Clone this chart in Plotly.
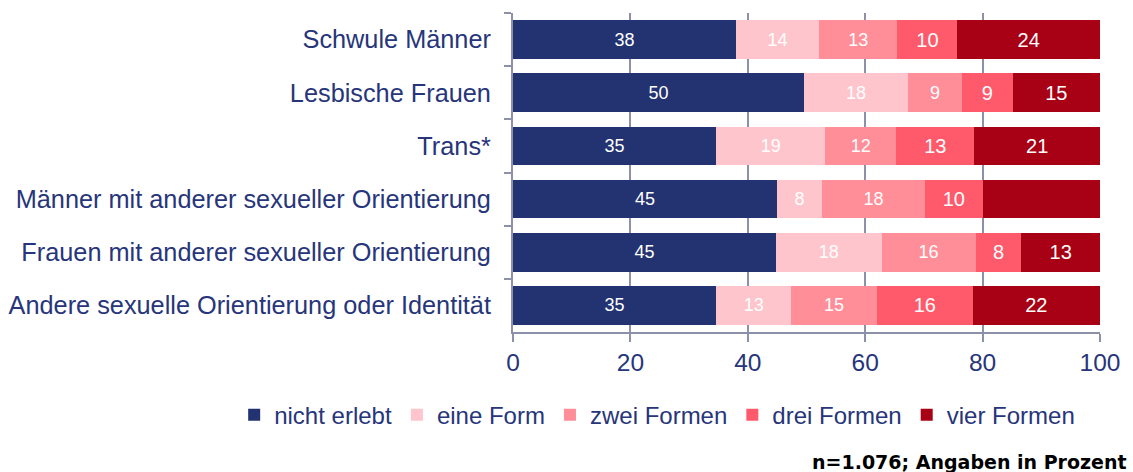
import plotly.graph_objects as go

categories = [
    "Schwule Männer",
    "Lesbische Frauen",
    "Trans*",
    "Männer mit anderer sexueller Orientierung",
    "Frauen mit anderer sexueller Orientierung",
    "Andere sexuelle Orientierung oder Identität",
]
series_names = ["nicht erlebt", "eine Form", "zwei Formen", "drei Formen", "vier Formen"]
nicht_erlebt = [38.0, 49.6, 34.6, 45.0, 44.8, 34.6]
eine_form = [14.1, 17.7, 18.6, 7.6, 18.0, 12.8]
zwei_formen = [13.4, 9.2, 12.1, 17.6, 16.0, 14.6]
drei_formen = [10.2, 8.6, 13.3, 9.8, 7.8, 16.3]
vier_formen = [24.3, 14.9, 21.4, 20.0, 13.4, 21.7]
# the reference shows no value label on one segment
vier_label_shown = [True, True, True, False, True, True]
x_ticks = [0, 20, 40, 60, 80, 100]

colors = ["#233270", "#ffc5cc", "#ff8e98", "#ff5a6b", "#a80014"]
label_sizes = [18, 18, 18, 20, 20]
FONT = "Liberation Sans, Arial, Helvetica, sans-serif"
NAVY = "#27357a"
GRID = "#8c90a8"

all_values = [nicht_erlebt, eine_form, zwei_formen, drei_formen, vier_formen]

fig = go.Figure()
for i, (name, vals) in enumerate(zip(series_names, all_values)):
    texts = [f"{round(v):d}" for v in vals]
    if name == "vier Formen":
        texts = [t if s else "" for t, s in zip(texts, vier_label_shown)]
    fig.add_trace(go.Bar(
        y=categories,
        x=vals,
        name=name,
        orientation="h",
        marker=dict(color=colors[i], line=dict(width=0)),
        text=texts,
        textposition="inside",
        insidetextanchor="middle",
        textangle=0,
        constraintext="none",
        textfont=dict(family=FONT, size=label_sizes[i], color="white"),
        hoverinfo="skip",
    ))

fig.update_layout(
    width=1133,
    height=472,
    barmode="stack",
    bargap=0.27,
    plot_bgcolor="white",
    paper_bgcolor="white",
    margin=dict(l=513, r=33, t=13, b=140, pad=0, autoexpand=False),
    font=dict(family=FONT, color=NAVY),
    showlegend=True,
    legend=dict(
        orientation="h",
        x=-0.475,
        xanchor="left",
        y=-0.19,
        yanchor="top",
        font=dict(family=FONT, size=24, color=NAVY),
        traceorder="normal",
        itemwidth=30,
    ),
    xaxis=dict(
        range=[0, 100],
        tickvals=x_ticks,
        ticktext=[str(t) for t in x_ticks],
        showgrid=True,
        gridcolor=GRID,
        gridwidth=1.5,
        showline=True,
        linecolor=GRID,
        linewidth=2,
        ticks="outside",
        ticklen=8,
        tickcolor=GRID,
        tickwidth=1.5,
        tickfont=dict(family=FONT, size=24.5, color=NAVY),
        zeroline=False,
        fixedrange=True,
        automargin=False,
    ),
    yaxis=dict(
        categoryorder="array",
        categoryarray=categories,
        autorange="reversed",
        showgrid=False,
        showline=True,
        linecolor=GRID,
        linewidth=2,
        ticks="outside",
        tickson="boundaries",
        ticklen=7,
        tickcolor=GRID,
        tickwidth=1.5,
        tickfont=dict(family=FONT, size=25.3, color=NAVY),
        ticklabelstandoff=15,
        zeroline=False,
        fixedrange=True,
        automargin=False,
    ),
    annotations=[
        dict(
            text="<b>n=1.076; Angaben in Prozent</b>",
            xref="paper", yref="paper",
            x=1.049, y=-0.408,
            xanchor="right", yanchor="middle",
            showarrow=False,
            font=dict(family="DejaVu Sans, sans-serif", size=19, color="black"),
        )
    ],
)

fig.write_html(
    "out.html",
    config={"displayModeBar": False},
    post_script="document.body.style.margin='0';document.body.style.overflow='hidden';",
)
